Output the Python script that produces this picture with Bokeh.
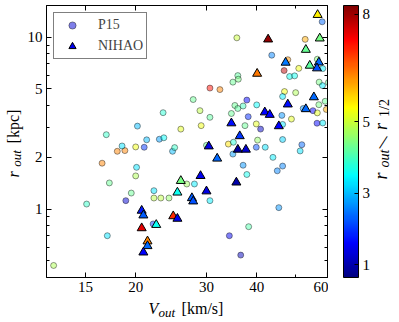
import numpy as np
from bokeh.plotting import figure
from bokeh.layouts import row, column
from bokeh.models import (LinearColorMapper, ColorBar, FixedTicker, LogAxis, Label,
                          Legend, LegendItem, CustomJSTickFormatter, PrintfTickFormatter,
                          ColumnDataSource)
from bokeh.embed import file_html
from bokeh.resources import INLINE

# ---------------- data ----------------
p15_v = [16.9, 18.0, 18.8, 18.5, 20.0, 21.0, 20.2, 21.3, 22.9, 23.5,
         23.4, 24.7, 25.0, 25.9, 27.8, 28.9, 29.1, 16.5, 20.1, 20.0,
         17.2, 19.5, 22.2, 15.1, 18.9, 22.2, 23.1, 24.2, 26.8, 28.0,
         17.0, 12.5, 22.1, 30.0, 34.0, 35.0, 34.9, 30.6, 34.2, 35.7,
         30.6, 32.4, 34.9, 35.9, 36.0, 30.6, 34.6, 35.3, 35.9, 37.0,
         37.8, 40.0, 38.1, 37.4, 39.9, 40.9, 40.2, 39.9, 42.0, 43.9,
         46.4, 51.8, 51.3, 37.0, 45.0, 46.4, 37.8, 45.4, 38.2, 36.5,
         43.6, 52.8, 58.2, 47.8, 46.8, 50.9, 56.6, 58.4, 48.3, 49.7,
         57.2, 58.3, 60.3, 46.9, 46.4, 50.0, 57.1, 59.2, 59.6, 52.2,
         55.2, 56.6, 46.2, 48.8, 46.4, 56.5, 58.4]
p15_r = [2.71, 2.17, 2.19, 2.33, 2.30, 2.29, 3.04, 2.53, 2.55, 2.60,
         3.64, 2.17, 2.28, 2.92, 4.34, 3.74, 3.06, 1.85, 1.75, 1.56,
         1.42, 1.24, 1.28, 1.07, 1.12, 1.16, 1.16, 1.16, 1.40, 1.40,
         0.70, 0.47, 0.82, 2.35, 2.39, 2.45, 2.09, 1.12, 0.70, 9.92,
         5.06, 4.96, 5.48, 5.98, 5.70, 3.42, 3.60, 4.01, 3.85, 3.98,
         4.31, 4.04, 3.45, 3.06, 3.13, 2.92, 2.52, 2.29, 2.29, 2.00,
         2.54, 2.37, 2.18, 1.80, 1.67, 1.78, 1.59, 1.02, 0.79, 0.54,
         7.86, 9.72, 12.3, 7.40, 6.40, 6.59, 7.45, 6.57, 5.91, 5.96,
         5.48, 5.23, 5.45, 4.83, 4.52, 4.76, 4.05, 4.24, 3.80, 3.85,
         3.74, 3.63, 3.51, 3.34, 3.11, 3.16, 3.17]
p15_ratio = [3.9, 6.3, 6.3, 3.3, 5.3, 2.0, 3.0, 3.0, 2.8, 3.5,
             3.8, 3.0, 3.9, 5.2, 4.3, 4.9, 5.3, 6.3, 3.3, 4.8,
             4.3, 4.3, 3.3, 3.9, 1.3, 4.9, 4.9, 4.6, 4.7, 3.4,
             3.3, 4.8, 2.0, 4.3, 5.6, 3.8, 2.8, 3.4, 1.5, 5.0,
             7.2, 6.3, 4.3, 4.2, 4.4, 4.2, 4.3, 4.3, 4.2, 4.0,
             1.6, 3.5, 1.9, 4.3, 5.2, 1.2, 4.6, 2.2, 3.3, 3.4,
             3.2, 2.4, 3.3, 2.7, 2.6, 2.6, 3.6, 2.7, 4.1, 1.1,
             2.6, 6.0, 2.4, 6.2, 7.8, 5.3, 4.5, 3.4, 3.6, 3.6,
             4.4, 3.4, 4.3, 5.3, 3.4, 4.8, 4.4, 4.3, 6.0, 2.7,
             1.6, 5.2, 2.7, 5.2, 3.3, 1.6, 3.4]

nihao_v = [56.7, 42.7, 57.4, 53.0, 47.2, 54.2, 57.1, 56.5, 40.1, 55.5,
           47.8, 41.9, 43.1, 53.0, 45.4, 34.6, 36.3, 30.4, 35.9, 37.6,
           31.9, 25.9, 25.4, 29.0, 35.6, 30.0, 27.6, 27.8, 20.7, 20.9,
           22.5, 24.8, 25.4, 20.7, 21.4, 21.4, 20.9]
nihao_r = [13.5, 9.72, 9.85, 8.46, 7.12, 6.84, 7.14, 6.60, 6.14, 4.48,
           4.07, 3.66, 3.54, 3.82, 3.04, 3.16, 2.66, 2.32, 2.22, 2.22,
           1.97, 1.46, 1.25, 1.56, 1.43, 1.27, 1.16, 1.11, 0.98, 0.92,
           0.81, 0.91, 0.88, 0.775, 0.65, 0.61, 0.56]
nihao_ratio = [5.5, 8.1, 4.4, 4.3, 2.5, 4.2, 2.4, 2.2, 6.4, 2.4,
               1.7, 1.6, 1.6, 2.4, 1.6, 1.7, 2.0, 1.4, 0.9, 1.3,
               2.4, 4.4, 3.6, 1.5, 1.0, 1.4, 2.3, 2.2, 1.8, 2.3,
               3.6, 7.0, 1.5, 7.5, 6.3, 2.4, 1.6]

x_ticks = [15, 20, 30, 40, 60]
x_minor = [50]
y_ticks = [1, 2, 5, 10]
y_minor = [0.5, 0.6, 0.7, 0.8, 0.9, 3, 4, 6, 7, 8, 9]
cbar_ticks = [1, 3, 5, 8]
cbar_low, cbar_high = 0.65, 8.25

# ---------------- jet palette ----------------
t = np.linspace(0, 1, 256)
def _ch(c):
    return np.clip(1.5 - np.abs(4 * t - c), 0, 1)
jet = ["#%02x%02x%02x" % (int(255 * a), int(255 * b), int(255 * c))
       for a, b, c in zip(_ch(3), _ch(2), _ch(1))]
mapper = LinearColorMapper(palette=jet, low=cbar_low, high=cbar_high)

SERIF = "Liberation Serif"

p = figure(width=304, height=300, x_axis_type="log", y_axis_type="log",
           x_range=(12, 60), y_range=(0.4, 15.3),
           output_backend="svg", toolbar_location=None,
           min_border_left=22, min_border_right=1, min_border_top=5,
           min_border_bottom=23)
p.xgrid.visible = False
p.ygrid.visible = False
p.outline_line_color = "black"
p.outline_line_width = 1
p.background_fill_color = "white"
p.border_fill_color = "white"

src_p = ColumnDataSource(dict(v=p15_v, r=p15_r, c=p15_ratio))
src_n = ColumnDataSource(dict(v=nihao_v, r=nihao_r, c=nihao_ratio))

rp = p.scatter("v", "r", source=src_p, marker="circle", size=6,
               fill_color={"field": "c", "transform": mapper}, fill_alpha=0.5,
               line_color="black", line_alpha=0.5, line_width=0.8)
rn = p.scatter("v", "r", source=src_n, marker="triangle", size=9,
               fill_color={"field": "c", "transform": mapper}, fill_alpha=1.0,
               line_color="black", line_width=1)

legend = Legend(items=[LegendItem(label="P15", renderers=[rp], index=24),
                       LegendItem(label="NIHAO", renderers=[rn], index=23)],
                location="top_left", margin=7, padding=3, spacing=3,
                glyph_width=30, glyph_height=18, label_height=18,
                label_standoff=11, label_text_font=SERIF,
                label_text_font_size="14px", border_line_color="black",
                border_line_width=1, background_fill_color="white",
                background_fill_alpha=1)
p.add_layout(legend)

# axes
def style_axis(ax):
    ax.major_tick_in = 5
    ax.major_tick_out = 0
    ax.minor_tick_in = 3
    ax.minor_tick_out = 0
    ax.axis_line_color = "black"
    ax.major_tick_line_color = "black"
    ax.minor_tick_line_color = "black"
    ax.major_label_text_font = SERIF
    ax.major_label_text_font_size = "15px"
    ax.major_label_text_color = "black"

xa = p.xaxis[0]
xa.ticker = FixedTicker(ticks=x_ticks, minor_ticks=x_minor)
xa.formatter = PrintfTickFormatter(format="%d")
style_axis(xa)
xa.major_label_standoff = 4
ya = p.yaxis[0]
ya.ticker = FixedTicker(ticks=y_ticks, minor_ticks=y_minor)
ya.formatter = PrintfTickFormatter(format="%d")
style_axis(ya)
ya.major_label_standoff = 4

blank = CustomJSTickFormatter(code="return ''")
top = LogAxis(ticker=FixedTicker(ticks=x_ticks, minor_ticks=x_minor), formatter=blank)
style_axis(top)
top.major_label_text_font_size = "0px"
top.major_label_standoff = 0
p.add_layout(top, "above")
right = LogAxis(ticker=FixedTicker(ticks=y_ticks, minor_ticks=y_minor), formatter=blank)
style_axis(right)
right.major_label_text_font_size = "0px"
right.major_label_standoff = 0
p.add_layout(right, "right")

# ---------------- side panels ----------------
def panel(w, h):
    f = figure(width=w, height=h, x_range=(0, 1), y_range=(0, 1),
               x_axis_location=None, y_axis_location=None,
               output_backend="svg", toolbar_location=None, min_border=0)
    f.grid.visible = False
    f.outline_line_color = None
    f.background_fill_color = "white"
    f.border_fill_color = "white"
    return f

def lab(f, text, x, y, size, style="normal", angle=0.0):
    f.add_layout(Label(x=x, y=y, x_units="screen", y_units="screen", text=text,
                       text_font=SERIF, text_font_size="%dpx" % size,
                       text_font_style=style, angle=angle, angle_units="rad",
                       text_align="center", text_baseline="middle",
                       text_color="black"))

A = np.pi / 2

# (frames of the side panels are aligned with the main frame by the row layout)
ylab = panel(24, 300)
lab(ylab, "r", 12.7, 103, 16, "italic", A)
lab(ylab, "out", 16.2, 119, 13, "italic", A)
lab(ylab, "[kpc]", 12.7, 151, 16, "normal", A)

cbp = panel(71, 300)
cb = ColorBar(color_mapper=mapper, ticker=FixedTicker(ticks=cbar_ticks),
              formatter=PrintfTickFormatter(format="%d"),
              width=15, height=272, padding=0, margin=0, location=(15, 0),
              major_label_text_font=SERIF, major_label_text_font_size="15px",
              major_label_text_color="black",
              major_tick_line_color="black", major_tick_in=4, major_tick_out=0,
              label_standoff=4, bar_line_color="black",
              border_line_color=None, background_fill_color=None)
cbp.add_layout(cb)
lab(cbp, "r", 52, 101.5, 18, "italic", A)
lab(cbp, "out", 56, 119, 14, "italic", A)
lab(cbp, "/", 55, 135.5, 20, "normal", -0.25)
lab(cbp, "r", 52, 151, 18, "italic", A)
lab(cbp, "1/2", 56, 169.5, 14, "normal", A)

xlab = panel(399, 22)
lab(xlab, "V", 153, 14.4, 16, "italic")
lab(xlab, "out", 166.3, 10, 13, "italic")
lab(xlab, "[km/s]", 202, 14.4, 16)

layout = column(row(ylab, p, cbp, spacing=0), xlab, spacing=0)

open("out.html", "w").write(file_html(layout, INLINE))
